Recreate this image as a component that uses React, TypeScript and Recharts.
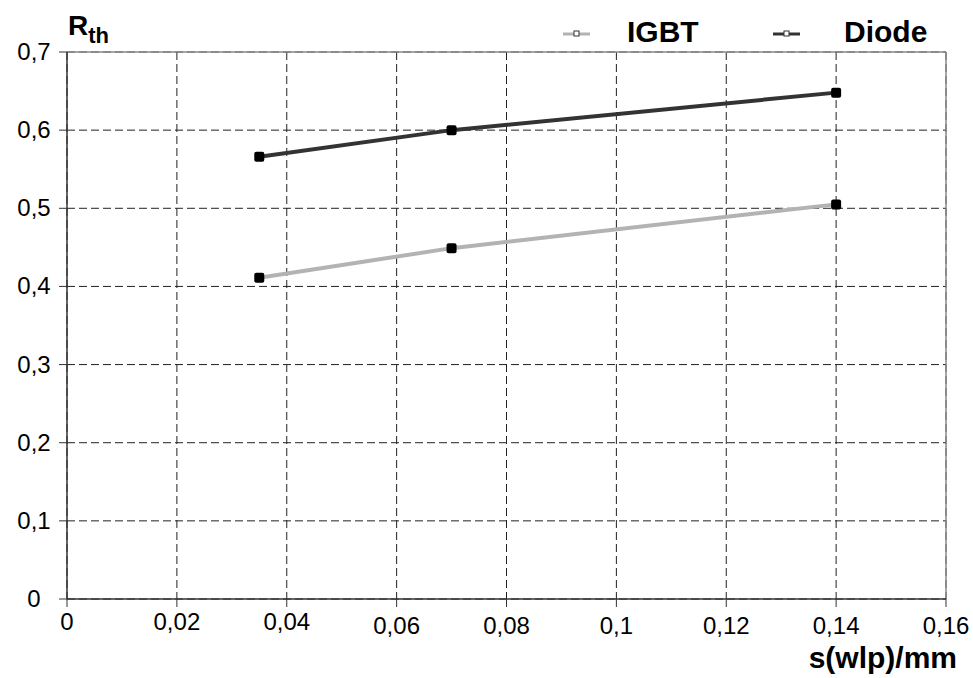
import { LineChart, Line, XAxis, YAxis, CartesianGrid, ReferenceLine } from 'recharts';

const sValues = [0.035, 0.07, 0.14];
const igbtValues = [0.411, 0.449, 0.505];
const diodeValues = [0.566, 0.6, 0.648];
const seriesNames = ['IGBT', 'Diode'];
const xTicks = [0, 0.02, 0.04, 0.06, 0.08, 0.1, 0.12, 0.14, 0.16];
const yTicks = [0, 0.1, 0.2, 0.3, 0.4, 0.5, 0.6, 0.7];

const data = sValues.map((s, i) => ({ s, igbt: igbtValues[i], diode: diodeValues[i] }));

const FONT = '"Liberation Sans", Arial, sans-serif';
const COLORS = ['#b3b3b3', '#333333'];

const fmt = (v: number) => String(v).replace('.', ',');

const SquareDot = (props: any) => {
  const { cx, cy } = props;
  if (cx == null || cy == null) return null;
  return <rect x={cx - 5} y={cy - 5} width={10} height={10} rx={2} fill="#000" />;
};

const XTick = (props: any) => {
  const { x, payload, index } = props;
  const baseline = index < 3 ? 630 : 634;
  return (
    <text x={x} y={baseline} textAnchor="middle" fontSize={24} fontFamily={FONT} fill="#000">
      {fmt(payload.value)}
    </text>
  );
};

const YTick = (props: any) => {
  const { y, payload } = props;
  return (
    <text x={34} y={y + 8} textAnchor="middle" fontSize={24} fontFamily={FONT} fill="#000">
      {fmt(payload.value)}
    </text>
  );
};

// legend drawn as an overlay so it doesn't push the plot area down
const LegendOverlay = () => {
  const pos = [
    { lx: 563, tx: 627 },
    { lx: 773, tx: 844 },
  ];
  return (
    <svg width={973} height={60} style={{ position: 'absolute', left: 0, top: 0 }}>
      {seriesNames.map((name, i) => (
        <g key={name}>
          <line x1={pos[i].lx} x2={pos[i].lx + 27} y1={34} y2={34} stroke={COLORS[i]} strokeWidth={3} />
          <rect x={pos[i].lx + 11} y={31} width={5} height={5} fill="#fff" stroke="#333" strokeWidth={1} />
          <text x={pos[i].tx} y={42} fontSize={30} fontWeight="bold" fontFamily={FONT} fill="#000">
            {name}
          </text>
        </g>
      ))}
    </svg>
  );
};

const App = () => {
  return (
    <div style={{ position: 'absolute', left: 0, top: 0, width: 973, height: 678, background: '#fff' }}>
      <LineChart
        width={973}
        height={678}
        data={data}
        margin={{ top: 52, right: 27, left: 7, bottom: 39 }}
      >
        <CartesianGrid stroke="#222" strokeDasharray="8 4" strokeWidth={1} />
        <XAxis
          dataKey="s"
          type="number"
          domain={[0, 0.16]}
          ticks={xTicks}
          height={40}
          tick={<XTick />}
          tickSize={8}
          stroke="#333"
          axisLine={{ stroke: '#333', strokeWidth: 1.5 }}
          label={{
            content: () => (
              <text x={957} y={668} textAnchor="end" fontSize={30} fontWeight="bold" fontFamily={FONT} fill="#000">
                s(wlp)/mm
              </text>
            ),
          }}
        />
        <YAxis
          type="number"
          domain={[0, 0.7]}
          ticks={yTicks}
          width={60}
          tick={<YTick />}
          tickSize={8}
          stroke="#333"
          axisLine={{ stroke: '#333', strokeWidth: 1.5 }}
          label={{
            content: () => (
              <text x={68} y={35} fontSize={28} fontWeight="bold" fontFamily={FONT} fill="#000">
                R
                <tspan fontSize={22} dy={8}>th</tspan>
              </text>
            ),
          }}
        />
        <ReferenceLine y={0.7} stroke="#888" strokeWidth={1.5} />
        <ReferenceLine x={0.16} stroke="#888" strokeWidth={1.5} />
        <Line
          name={seriesNames[0]}
          dataKey="igbt"
          stroke={COLORS[0]}
          strokeWidth={4}
          dot={<SquareDot />}
          activeDot={false}
          isAnimationActive={false}
        />
        <Line
          name={seriesNames[1]}
          dataKey="diode"
          stroke={COLORS[1]}
          strokeWidth={4}
          dot={<SquareDot />}
          activeDot={false}
          isAnimationActive={false}
        />
      </LineChart>
      <LegendOverlay />
    </div>
  );
};

export default App;
